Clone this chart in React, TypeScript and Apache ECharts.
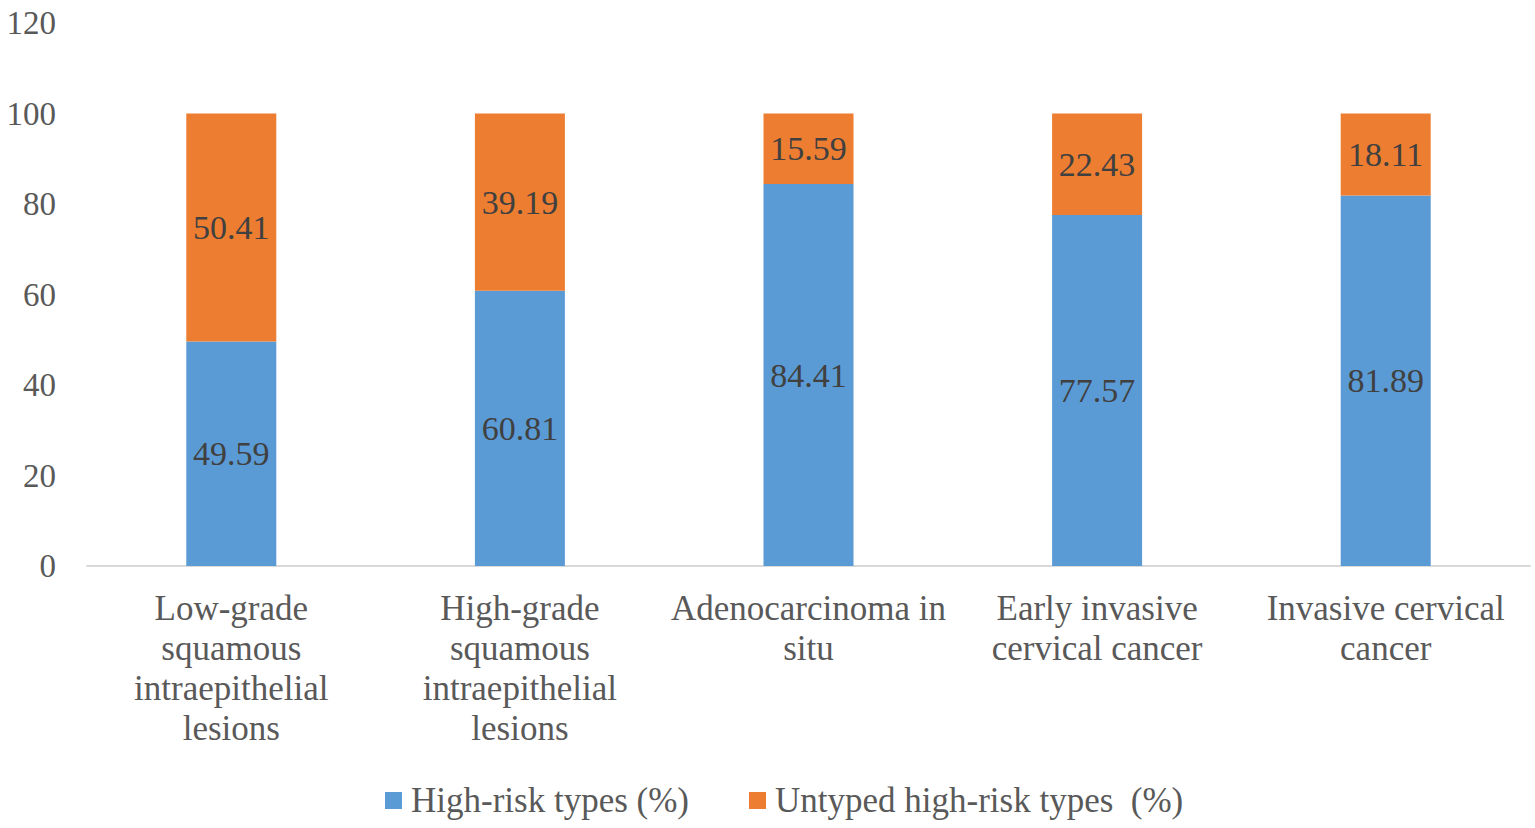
import React, { useEffect, useRef } from "react";
import * as echarts from "echarts";

const categories = [
  "Low-grade\nsquamous\nintraepithelial\nlesions",
  "High-grade\nsquamous\nintraepithelial\nlesions",
  "Adenocarcinoma in\nsitu",
  "Early invasive\ncervical cancer",
  "Invasive cervical\ncancer",
];
const highRisk = [49.59, 60.81, 84.41, 77.57, 81.89];
const untyped = [50.41, 39.19, 15.59, 22.43, 18.11];
const seriesNames = ["High-risk types (%)", "Untyped high-risk types  (%)"];

const FONT = "'Liberation Serif', 'Times New Roman', serif";

export default function App() {
  const ref = useRef<HTMLDivElement>(null);
  useEffect(() => {
    if (!ref.current) return;
    const chart = echarts.init(ref.current, undefined, { renderer: "svg" });
    const labelStyle = {
      show: true,
      position: "inside",
      color: "#404040",
      fontFamily: FONT,
      fontSize: 34,
      formatter: (p: any) => p.value.toFixed(2),
    };
    chart.setOption({
      animation: false,
      textStyle: { fontFamily: FONT },
      grid: { left: 87, right: 5, top: 23, bottom: 262, containLabel: false },
      legend: {
        top: 778,
        left: 380,
        itemWidth: 17,
        itemHeight: 17,
        itemGap: 60,
        icon: "rect",
        textStyle: { fontFamily: FONT, fontSize: 35, color: "#595959", padding: [0, 0, 0, 4] },
        data: seriesNames,
      },
      xAxis: {
        type: "category",
        data: categories,
        axisLine: { lineStyle: { color: "#d9d9d9", width: 2 } },
        axisTick: { show: false },
        axisLabel: {
          interval: 0,
          color: "#595959",
          fontFamily: FONT,
          fontSize: 35,
          lineHeight: 40,
          margin: 22,
        },
      },
      yAxis: {
        type: "value",
        min: 0,
        max: 120,
        interval: 20,
        splitLine: { show: false },
        axisLine: { show: false },
        axisTick: { show: false },
        axisLabel: { color: "#595959", fontFamily: FONT, fontSize: 33, margin: 31 },
      },
      series: [
        {
          name: seriesNames[0],
          type: "bar",
          stack: "total",
          barWidth: 90,
          data: highRisk,
          itemStyle: { color: "#5B9BD5" },
          label: labelStyle,
        },
        {
          name: seriesNames[1],
          type: "bar",
          stack: "total",
          barWidth: 90,
          data: untyped,
          itemStyle: { color: "#ED7D31" },
          label: labelStyle,
        },
      ],
    });
    return () => chart.dispose();
  }, []);
  return (
    <div
      ref={ref}
      style={{ position: "absolute", left: 0, top: 0, width: 1535, height: 828 }}
    />
  );
}
